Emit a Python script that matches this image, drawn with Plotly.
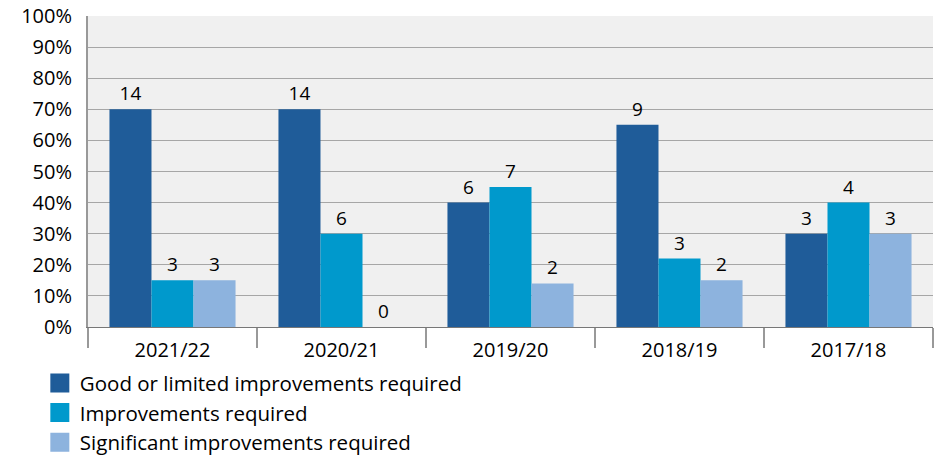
import plotly.graph_objects as go

categories = ["2021/22", "2020/21", "2019/20", "2018/19", "2017/18"]
series_names = ["Good or limited improvements required",
                "Improvements required",
                "Significant improvements required"]
good_pct = [70, 70, 40, 65, 30]
impr_pct = [15, 30, 45, 22, 40]
sig_pct = [15, 0, 14, 15, 30]
good_n = [14, 14, 6, 9, 3]
impr_n = [3, 6, 7, 3, 4]
sig_n = [3, 0, 2, 2, 3]
colors = ["#1f5c99", "#0099cc", "#8db3de"]
ytick_vals = [0, 10, 20, 30, 40, 50, 60, 70, 80, 90, 100]
ytick_text = [f"{v}%" for v in ytick_vals]

FONT = "Open Sans"
fig = go.Figure()
for name, vals, counts, col in zip(series_names, [good_pct, impr_pct, sig_pct],
                                   [good_n, impr_n, sig_n], colors):
    fig.add_trace(go.Bar(
        x=categories, y=vals, name=name, marker_color=col,
        marker_line_width=0,
        text=[str(c) for c in counts], textposition="outside",
        textfont=dict(size=19, color="#000000", family=FONT),
        cliponaxis=False, showlegend=False, hoverinfo="skip"))
# legend entries with larger square swatches
for name, col in zip(series_names, colors):
    fig.add_trace(go.Scatter(
        x=[None], y=[None], mode="markers", name=name,
        marker=dict(symbol="square", size=16, color=col,
                    line=dict(color=col, width=3)),
        showlegend=True))

fig.update_layout(
    width=935, height=456,
    margin=dict(l=88, r=2, t=16, b=129, autoexpand=False),
    paper_bgcolor="white", plot_bgcolor="#f0f0f0",
    barmode="group", bargap=0.254, bargroupgap=0,
    font=dict(family=FONT, size=19, color="#000000"),
    legend=dict(x=-0.057, y=-0.116, xanchor="left", yanchor="top",
                orientation="v", font=dict(size=20.5, family=FONT),
                itemwidth=30, tracegroupgap=0, bgcolor="rgba(0,0,0,0)"),
)
fig.update_xaxes(
    type="category", tickson="boundaries", ticks="outside", ticklen=20,
    tickcolor="#999999", tickwidth=2, showline=True, linecolor="#777777",
    linewidth=1, showgrid=False, tickfont=dict(size=20, family=FONT),
    ticklabelstandoff=5, automargin=False, fixedrange=True)
fig.update_yaxes(
    range=[0, 100], tickvals=ytick_vals, ticktext=ytick_text,
    showgrid=True, gridcolor="#a6a6a6", gridwidth=1,
    showline=True, linecolor="#999999", linewidth=2,
    zeroline=False, ticks="", ticklabelstandoff=10,
    tickfont=dict(size=20, family=FONT), automargin=False, fixedrange=True)

fig.write_html("out.html", config={"displayModeBar": False},
               post_script="document.body.style.margin='0';")
